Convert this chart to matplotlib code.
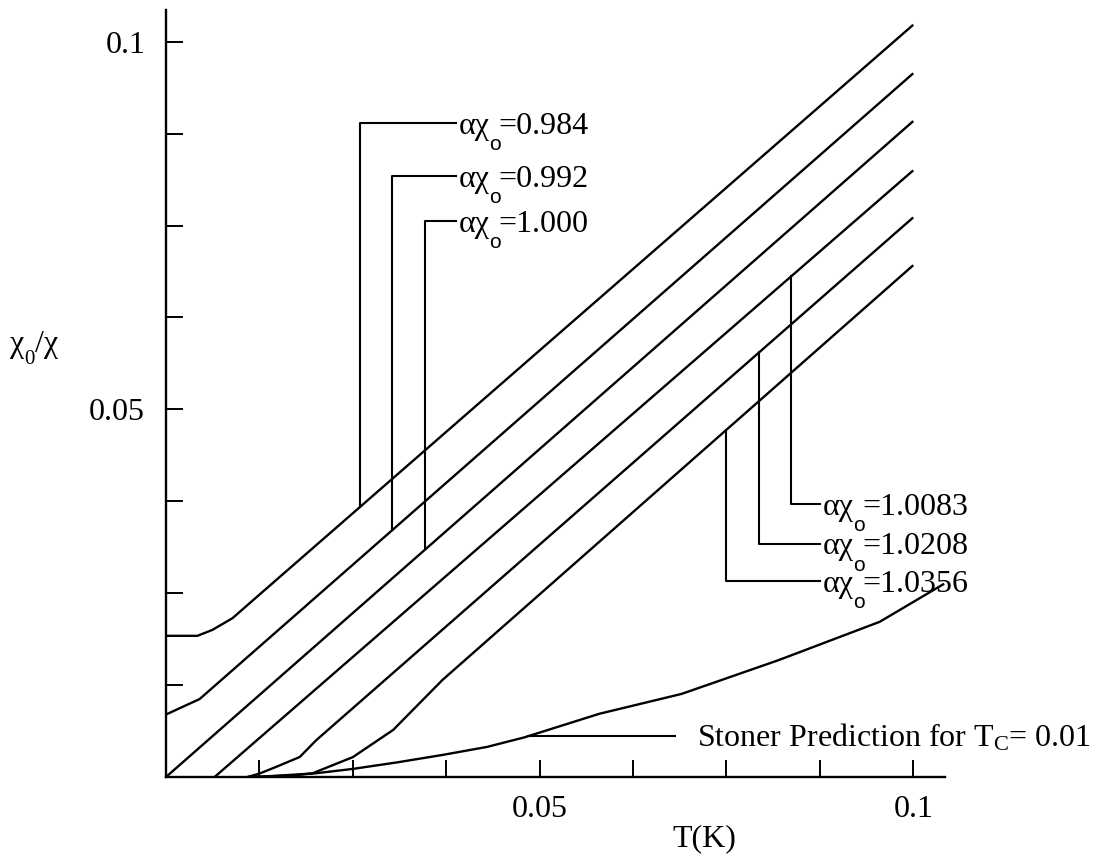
import numpy as np
import matplotlib
matplotlib.use('Agg')
import matplotlib.pyplot as plt

plt.rcParams['font.family'] = ['Liberation Serif', 'DejaVu Serif']
plt.rcParams['mathtext.fontset'] = 'custom'
plt.rcParams['mathtext.rm'] = 'Liberation Serif'
plt.rcParams['mathtext.it'] = 'Liberation Serif:italic'
plt.rcParams['mathtext.sf'] = 'Liberation Sans'

# alpha*chi0 of each curve (top to bottom)
alpha_chi = ['0.984', '0.992', '1.000', '1.0083', '1.0208', '1.0356']

# chi0/chi vs T
t1 = [0.0, 0.0042, 0.0062, 0.0089, 0.0116, 0.1]
c1 = [0.0192, 0.0192, 0.0200, 0.0216, 0.0240, 0.1023]
t2 = [0.0, 0.0045, 0.1]
c2 = [0.0085, 0.0106, 0.0957]
t3 = [0.0, 0.1]
c3 = [0.0, 0.0892]
t4 = [0.0065, 0.1]
c4 = [0.0, 0.0825]
t5 = [0.0109, 0.0125, 0.0147, 0.0179, 0.0201, 0.1]
c5 = [0.0, 0.00046, 0.00136, 0.00272, 0.0050, 0.0761]
t6 = [0.011, 0.017, 0.0196, 0.025, 0.0304, 0.037, 0.1]
c6 = [0.0, 0.0002, 0.0005, 0.0027, 0.0064, 0.0132, 0.0696]

# Stoner prediction, Tc = 0.01
t_st = [0.012, 0.020, 0.025, 0.031, 0.037, 0.043, 0.048, 0.058, 0.069, 0.082, 0.0955, 0.104]
c_st = [0.0, 0.0005, 0.0011, 0.0020, 0.0030, 0.0041, 0.0054, 0.0086, 0.0113, 0.0159, 0.0211, 0.0262]

curves = [(t1, c1), (t2, c2), (t3, c3), (t4, c4), (t5, c5), (t6, c6)]

# label leaders: x of the vertical stroke, y of the horizontal stroke
lead_x = [0.0260, 0.0303, 0.0347, 0.0837, 0.0794, 0.0750]
lead_y = [0.0889, 0.0817, 0.0756, 0.0371, 0.0317, 0.0266]
lead_end = [0.0388, 0.0388, 0.0388, 0.0875, 0.0875, 0.0875]

lw = 1.7
fs = 23

fig = plt.figure(figsize=(11.02, 8.59), dpi=100)
ax = fig.add_axes([166 / 1102, 82 / 859, 779 / 1102, 767 / 859])

for t, c in curves:
    ax.plot(t, c, color='black', lw=lw, solid_capstyle='butt')
ax.plot(t_st, c_st, color='black', lw=lw)


def chi_label(x, y, value):
    # "αχ" + big low sans "o" + "=value"
    a = ax.annotate('αχ', xy=(x, y), xytext=(2, -7.5), textcoords='offset points',
                    va='baseline', ha='left', fontsize=fs)
    o = ax.annotate('o', xy=(1, y), xycoords=(a, 'data'), xytext=(-0.5, -19.5),
                    textcoords='offset points', va='baseline', ha='left',
                    fontsize=15, family='Liberation Sans')
    ax.annotate('=' + value, xy=(1, y), xycoords=(o, 'data'), xytext=(-1.5, -7.5),
                textcoords='offset points', va='baseline', ha='left', fontsize=fs)


for i, (t, c) in enumerate(curves):
    x0 = lead_x[i]
    y_on = np.interp(x0, t, c)
    ax.plot([x0, x0, lead_end[i]], [y_on, lead_y[i], lead_y[i]], color='black', lw=1.5)
    chi_label(lead_end[i], lead_y[i], alpha_chi[i])

# Stoner leader
st_x = 0.0484
st_y = np.interp(st_x, t_st, c_st)
ax.plot([st_x, 0.0681], [st_y, st_y], color='black', lw=1.5)
ax.annotate(r'Stoner Prediction for T$_{\mathrm{C}}$= 0.01', xy=(0.0681, st_y),
            xytext=(16, -7.5), textcoords='offset points', va='baseline', ha='left',
            fontsize=fs)

ax.set_xlim(0, 0.10425)
ax.set_ylim(0, 0.10431)
ticks = np.arange(0.0125, 0.1001, 0.0125)
tick_text = ['0.05' if abs(v - 0.05) < 1e-6 else '0.1' if abs(v - 0.1) < 1e-6 else '' for v in ticks]
ax.set_xticks(ticks)
ax.set_yticks(ticks)
ax.set_xticklabels(tick_text)
ax.set_yticklabels(tick_text)
ax.tick_params(direction='in', length=12.5, width=1.4, labelsize=fs)
ax.tick_params(axis='x', pad=13)
ax.tick_params(axis='y', pad=15)

for s in ['top', 'right']:
    ax.spines[s].set_visible(False)
for s in ['left', 'bottom']:
    ax.spines[s].set_linewidth(1.7)

ax.set_xlabel('T(K)', fontsize=fs, va='top')
ax.xaxis.set_label_coords((704 - 166) / 779, -(824 - 777) / 767)

# y label: χ, low subscript 0, /χ
ya = fig.text(10 / 1102, 1 - 352 / 859, 'χ', fontsize=fs, va='baseline', ha='left')
yo = plt.annotate('0', xy=(1, 1 - 352 / 859), xycoords=(ya, 'figure fraction'),
                  xytext=(0, -9), textcoords='offset points', fontsize=15,
                  va='baseline', ha='left')
plt.annotate('/χ', xy=(1, 1 - 352 / 859), xycoords=(yo, 'figure fraction'),
             xytext=(0, 0), textcoords='offset points', fontsize=fs,
             va='baseline', ha='left')

fig.savefig('out.png', dpi=100)
